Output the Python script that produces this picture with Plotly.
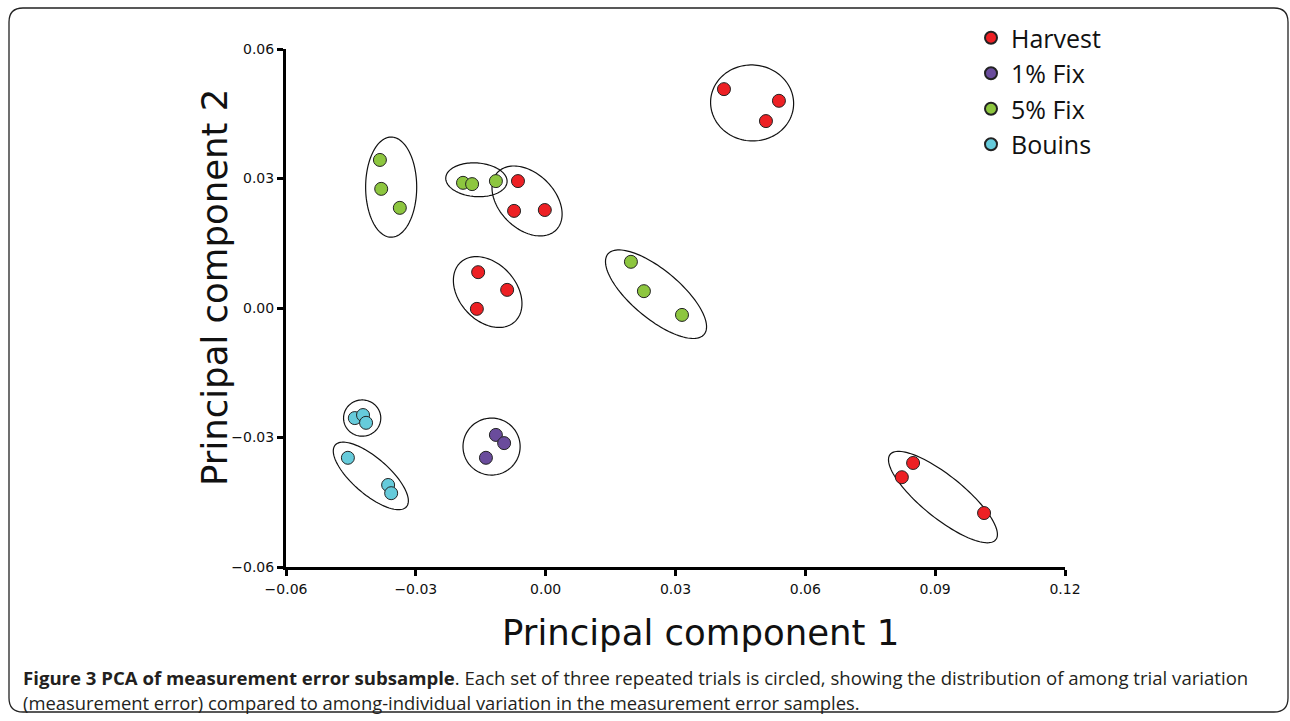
import numpy as np
import plotly.graph_objects as go

# ---- data ----
groups = ["Harvest", "1% Fix", "5% Fix", "Bouins"]
colors = {"Harvest": "#ED2024", "1% Fix": "#6A4C9C", "5% Fix": "#8DC63F", "Bouins": "#66CBDB"}

harvest_x = [0.0412, 0.0539, 0.0509, -0.0064, -0.0073, -0.0002, -0.0156, -0.0089, -0.0159, 0.0849, 0.0823, 0.1013]
harvest_y = [0.0507, 0.0480, 0.0433, 0.0294, 0.0225, 0.0227, 0.0083, 0.0042, -0.0002, -0.0359, -0.0392, -0.0475]

fix1_x = [-0.0115, -0.0096, -0.0138]
fix1_y = [-0.0294, -0.0313, -0.0347]

fix5_x = [-0.0383, -0.0380, -0.0337, -0.0191, -0.0170, -0.0115, 0.0197, 0.0227, 0.0315]
fix5_y = [0.0343, 0.0276, 0.0232, 0.0290, 0.0287, 0.0294, 0.0107, 0.0039, -0.0016]

bouins_x = [-0.0441, -0.0422, -0.0415, -0.0457, -0.0364, -0.0357]
bouins_y = [-0.0255, -0.0248, -0.0266, -0.0347, -0.0410, -0.0429]

series = {
    "Harvest": (harvest_x, harvest_y),
    "1% Fix": (fix1_x, fix1_y),
    "5% Fix": (fix5_x, fix5_y),
    "Bouins": (bouins_x, bouins_y),
}

# ellipses circling each set of trials: centre x, centre y, semi-axis a, semi-axis b, angle (deg)
ell_cx = [-0.0357, -0.0160, -0.0043, -0.0134, 0.0255, 0.0477, 0.0918, -0.0424, -0.0404, -0.0125]
ell_cy = [0.0280, 0.0297, 0.0248, 0.0037, 0.0032, 0.0475, -0.0438, -0.0255, -0.0389, -0.0321]
ell_a = [0.0059, 0.0071, 0.0095, 0.0093, 0.0145, 0.0096, 0.0157, 0.0043, 0.0109, 0.0066]
ell_b = [0.0116, 0.0039, 0.0064, 0.0066, 0.0056, 0.0088, 0.0049, 0.0042, 0.0042, 0.0066]
ell_ang = [0, -4, -45, -48, -40, -5, -39, 0, -41, 0]

x_ticks = [-0.06, -0.03, 0.00, 0.03, 0.06, 0.09, 0.12]
y_ticks = [-0.06, -0.03, 0.00, 0.03, 0.06]

# ---- figure ----
fig = go.Figure()

# ellipses
t = np.linspace(0, 2 * np.pi, 120)
for cx, cy, a, b, ang in zip(ell_cx, ell_cy, ell_a, ell_b, ell_ang):
    th = np.deg2rad(ang)
    ex = cx + a * np.cos(th) * np.cos(t) - b * np.sin(th) * np.sin(t)
    ey = cy + a * np.sin(th) * np.cos(t) + b * np.cos(th) * np.sin(t)
    path = "M " + " L ".join(f"{xx:.6f},{yy:.6f}" for xx, yy in zip(ex, ey)) + " Z"
    fig.add_shape(type="path", path=path, xref="x", yref="y",
                  line=dict(color="#111111", width=1.2), layer="below")

for g in groups:
    xs, ys = series[g]
    fig.add_trace(go.Scatter(
        x=xs, y=ys, mode="markers", name=g,
        marker=dict(size=13, color=colors[g], line=dict(color="#222222", width=1)),
    ))

L, R, T, B = 286, 225, 49, 154
W, H = 1290, 721
pw, ph = W - L - R, H - T - B

def px(xp):
    return (xp - L) / pw

def py(yp):
    return (H - B - yp) / ph

# rounded border around the figure
x0, x1, y0, y1, r = 9, 1288, 8, 712, 14
rx, ry = r / pw, r / ph
bx0, bx1 = px(x0), px(x1)
by0, by1 = py(y1), py(y0)
border = (f"M {bx0+rx},{by1} L {bx1-rx},{by1} Q {bx1},{by1} {bx1},{by1-ry} "
          f"L {bx1},{by0+ry} Q {bx1},{by0} {bx1-rx},{by0} "
          f"L {bx0+rx},{by0} Q {bx0},{by0} {bx0},{by0+ry} "
          f"L {bx0},{by1-ry} Q {bx0},{by1} {bx0+rx},{by1} Z")
fig.add_shape(type="path", path=border, xref="paper", yref="paper",
              line=dict(color="#222222", width=1.3))

# axis titles
fig.add_annotation(text="Principal component 1", xref="paper", yref="paper",
                   x=px(700), y=py(632), xanchor="center", yanchor="middle",
                   showarrow=False, font=dict(family="DejaVu Sans", size=35.5, color="#111111"))
fig.add_annotation(text="Principal component 2", xref="paper", yref="paper",
                   x=px(214), y=py(288), xanchor="center", yanchor="middle", textangle=-90,
                   showarrow=False, font=dict(family="DejaVu Sans", size=35.5, color="#111111"))

# caption
fig.add_annotation(
    text="<b>Figure 3 PCA of measurement error subsample</b>. Each set of three repeated trials is circled, "
         "showing the distribution of among trial variation",
    xref="paper", yref="paper", x=px(21), y=py(677), xanchor="left", yanchor="middle",
    showarrow=False, font=dict(family="Open Sans", size=18.6, color="#231F20"))
fig.add_annotation(
    text="(measurement error) compared to among-individual variation in the measurement error samples.",
    xref="paper", yref="paper", x=px(21), y=py(702), xanchor="left", yanchor="middle",
    showarrow=False, font=dict(family="Open Sans", size=18.4, color="#231F20"))

axis_common = dict(
    showgrid=False, zeroline=False, showline=True, linecolor="black", linewidth=3,
    ticks="outside", ticklen=6, tickwidth=3, tickcolor="black",
    tickfont=dict(family="DejaVu Sans", size=14, color="#111111"),
    tickformat=".2f",
)

fig.update_layout(
    width=W, height=H,
    margin=dict(l=L, r=R, t=T, b=B),
    paper_bgcolor="white", plot_bgcolor="white",
    xaxis=dict(range=[-0.06, 0.12], tickvals=x_ticks, ticklabelstandoff=1, **axis_common),
    yaxis=dict(range=[-0.06, 0.06], tickvals=y_ticks, ticklabelstandoff=0, **axis_common),
    legend=dict(x=px(971), y=py(15), xanchor="left", yanchor="top",
                font=dict(family="Open Sans", size=25, color="#111111"),
                bgcolor="rgba(0,0,0,0)", itemsizing="constant", tracegroupgap=0),
    showlegend=True,
)

fig.write_html("out.html", config={"displayModeBar": False},
               post_script="document.body.style.margin='0';")
